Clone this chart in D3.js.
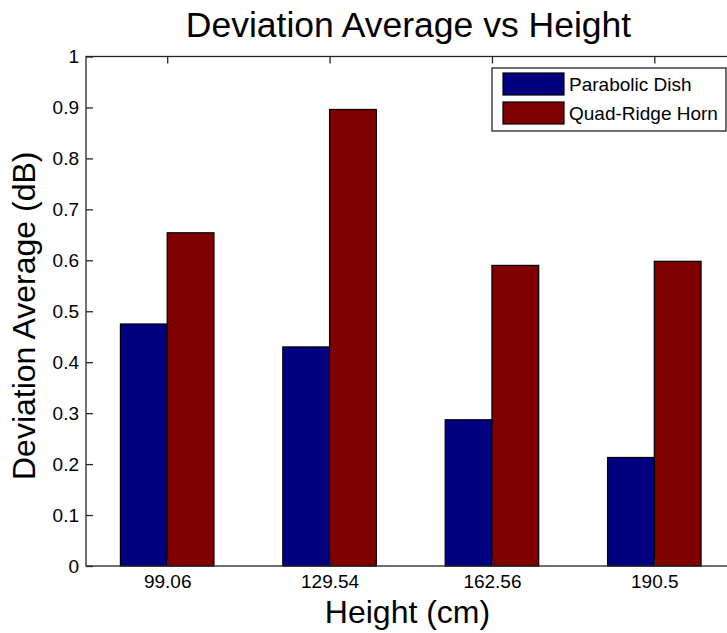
<!DOCTYPE html>
<html><head><meta charset="utf-8">
<script src="https://cdn.jsdelivr.net/npm/d3@7"></script>
<style>body{margin:0;background:#fff}svg{display:block;font-family:"Liberation Sans",Arial,sans-serif}</style>
</head><body><svg id="c" width="727" height="633"></svg>
<script>
const categories = ["99.06","129.54","162.56","190.5"];
const parabolicDish = [0.475, 0.430, 0.287, 0.213];
const quadRidgeHorn = [0.654, 0.896, 0.590, 0.598];
const seriesNames = ["Parabolic Dish","Quad-Ridge Horn"];
const seriesColors = ["#000080","#800000"];
const yTicks = [0,0.1,0.2,0.3,0.4,0.5,0.6,0.7,0.8,0.9,1];
const yTickLabels = ["0","0.1","0.2","0.3","0.4","0.5","0.6","0.7","0.8","0.9","1"];

const svg = d3.select("#c");
const L=86, R=735.5, T=56.5, B=566;
const x = d3.scaleLinear().domain([0.5, categories.length+0.5]).range([L,R]);
const y = d3.scaleLinear().domain([0,1]).range([B,T]);
const barW = 0.288;
const axisColor = "#262626";

const series = [parabolicDish, quadRidgeHorn];
series.forEach((vals,s)=>{
  svg.append("g").selectAll("rect").data(vals).join("rect")
    .attr("x",(d,i)=>x(i+1 + (s===0?-barW:0)))
    .attr("width", x(1+barW)-x(1))
    .attr("y", d=>y(d))
    .attr("height", d=>y(0)-y(d))
    .attr("fill", seriesColors[s])
    .attr("stroke","#000").attr("stroke-width",1.2);
});

// frame
svg.append("rect").attr("x",L).attr("y",T).attr("width",R-L).attr("height",B-T)
  .attr("fill","none").attr("stroke",axisColor).attr("stroke-width",1.3);

// axes
const yAxis = d3.axisLeft(y).tickValues(yTicks).tickFormat((d,i)=>yTickLabels[i]).tickSizeInner(-7).tickSizeOuter(0).tickPadding(7);
const gy = svg.append("g").attr("transform",`translate(${L},0)`).call(yAxis);
const xAxis = d3.axisBottom(x).tickValues(categories.map((c,i)=>i+1)).tickFormat((d,i)=>categories[i]).tickSizeInner(-7).tickSizeOuter(0).tickPadding(9);
const gx = svg.append("g").attr("transform",`translate(0,${B})`).call(xAxis);
const gt = svg.append("g").attr("transform",`translate(0,${T})`).call(d3.axisTop(x).tickValues(categories.map((c,i)=>i+1)).tickFormat("").tickSizeInner(-7).tickSizeOuter(0));
[gx,gy,gt].forEach(g=>{
  g.select(".domain").remove();
  g.selectAll(".tick line").attr("stroke",axisColor).attr("stroke-width",1.3);
  g.selectAll(".tick text").attr("fill","#000").style("font-size","19px").style("font-family",'"Liberation Sans",Arial,sans-serif');
});

// title
svg.append("text").attr("x",408.5).attr("y",37).attr("text-anchor","middle")
  .style("font-size","35.5px").attr("fill","#000").text("Deviation Average vs Height");
// x label
svg.append("text").attr("x",407.5).attr("y",623).attr("text-anchor","middle")
  .style("font-size","32px").attr("fill","#000").text("Height (cm)");
// y label
svg.append("text").attr("transform","translate(35,480) rotate(-90)").attr("text-anchor","start")
  .style("font-size","32px").attr("fill","#000").text("Deviation Average (dB)");

// legend
const lg = svg.append("g");
lg.append("rect").attr("x",492).attr("y",68).attr("width",234).attr("height",63)
  .attr("fill","#fff").attr("stroke",axisColor).attr("stroke-width",1.3);
seriesNames.forEach((n,i)=>{
  lg.append("rect").attr("x",503).attr("y",73+i*29).attr("width",61).attr("height",22)
    .attr("fill",seriesColors[i]).attr("stroke","#000").attr("stroke-width",1.2);
  lg.append("text").attr("x",569).attr("y",84+i*29).attr("dy","0.35em")
    .style("font-size","19px").attr("fill","#000").text(n);
});
</script></body></html>
